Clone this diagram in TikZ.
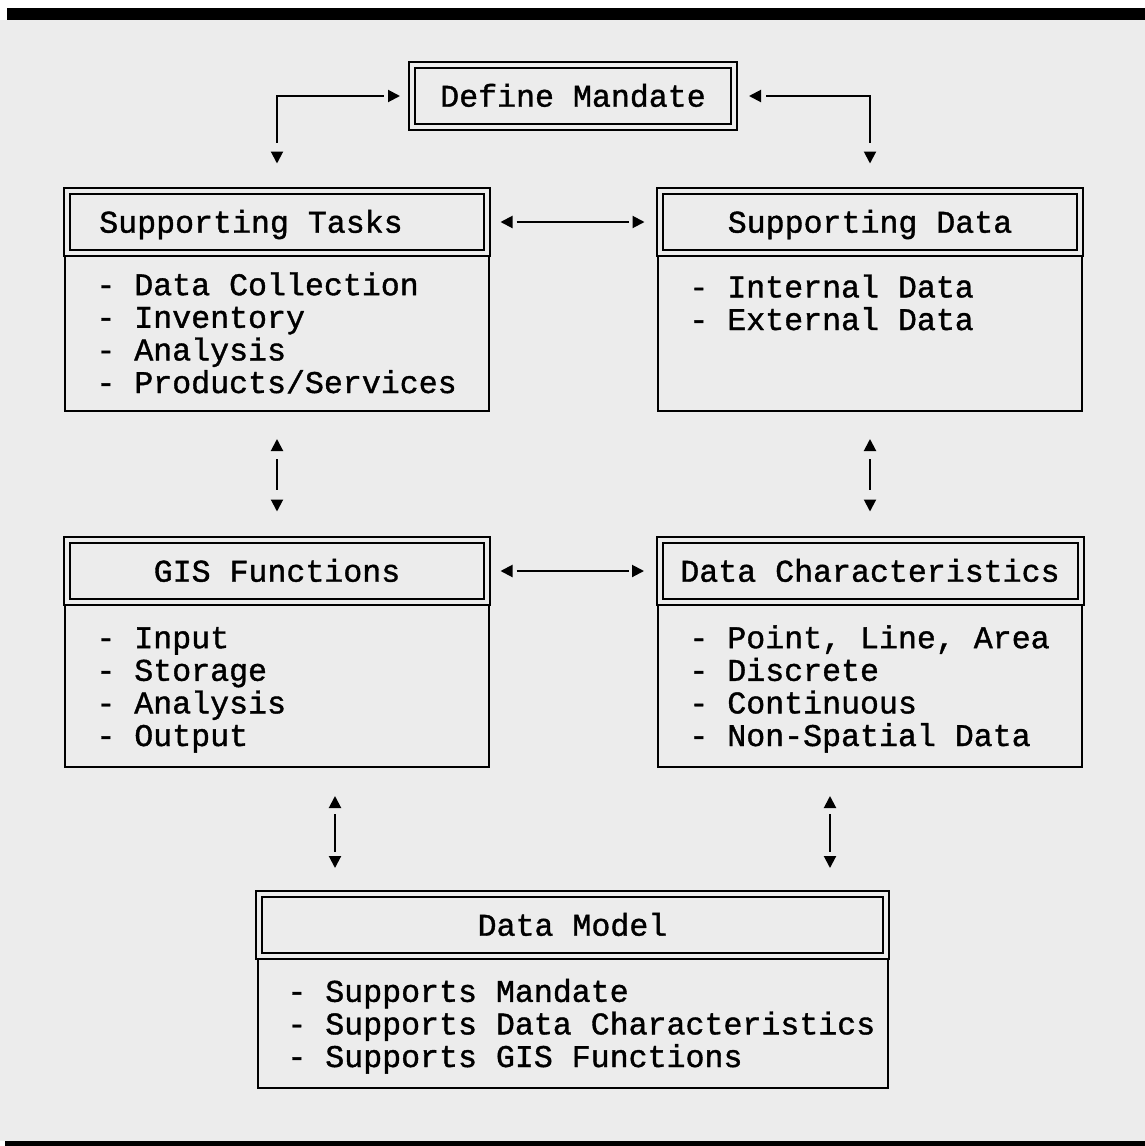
\documentclass[tikz,border=0pt]{standalone}
\usepackage{fontspec}
\newfontfamily\typewriter{Liberation Mono}[FakeBold=1.2]
\usetikzlibrary{arrows.meta}
\definecolor{paper}{gray}{0.925}

\begin{document}
\begin{tikzpicture}[x=0.5pt,y=-0.5pt,
    every node/.style={font=\typewriter\fontsize{15.8}{16.3}\selectfont},
    headbox/.style={draw,line width=1pt,double=paper,double distance=2pt,fill=paper,
      minimum height=31pt,inner sep=0pt,text height=1.07em,text depth=0pt},
    listbox/.style={draw,line width=1pt,fill=paper,inner sep=0pt,minimum width=212pt},
    listtext/.style={anchor=base west,inner sep=0pt,align=left},
    link/.style={tips,line width=1pt,
      {Triangle[length=6pt,width=6pt]}-{Triangle[length=6pt,width=6pt]}},
    stem/.style={line width=1pt}]
    \useasboundingbox (0,0) rectangle (1145,1146);
    \fill[paper] (0,20) rectangle (1145,1141);
    \fill (7,8) rectangle (1145,20);
    \fill (5,1141) rectangle (1145,1146);
    % lists
    \node[listbox,minimum height=78.5pt] (tasksbox) at (277,332.5) {};
    \node[listbox,minimum height=78.5pt] (databox) at (870,332.5) {};
    \node[listbox,minimum height=82pt] (gisbox) at (277,685) {};
    \node[listbox,minimum height=82pt] (charbox) at (870,685) {};
    \node[listbox,minimum height=65.5pt,minimum width=315pt] (modelbox) at (573,1022.5) {};
    \node[listtext] (taskslist) at ([shift={(32,140)}]tasksbox.north west) {- Data Collection\\- Inventory\\- Analysis\\- Products/Services};
    \node[listtext] (datalist) at ([shift={(32,77)}]databox.north west) {- Internal Data\\- External Data};
    \node[listtext] (gislist) at ([shift={(32,144)}]gisbox.north west) {- Input\\- Storage\\- Analysis\\- Output};
    \node[listtext] (charlist) at ([shift={(32,144)}]charbox.north west) {- Point, Line, Area\\- Discrete\\- Continuous\\- Non-Spatial Data};
    \node[listtext] (modellist) at ([shift={(30,111)}]modelbox.north west) {- Supports Mandate\\- Supports Data Characteristics\\- Supports GIS Functions};
    % titles
    \node[headbox,minimum width=161pt] (mandate) at (573,96) {Define Mandate};
    \node[headbox,minimum width=210pt] (tasks) at (277,222) {Supporting Tasks\hspace*{26pt}};
    \node[headbox,minimum width=210pt] (data) at (870,222) {Supporting Data};
    \node[headbox,minimum width=210pt] (gis) at (277,571) {GIS Functions};
    \node[headbox,minimum width=210.5pt] (char) at (870,571) {Data Characteristics};
    \node[headbox,minimum width=313.5pt] (model) at (572.5,925) {Data Model};
    % connectors: tips, then the line between them
    \path[link,shorten <=13.25pt,shorten >=5.5pt] (tasks.north) |- (mandate.west);
    \draw[stem,shorten <=23.75pt,shorten >=13.5pt] (tasks.north) |- (mandate.west);
    \path[link,shorten <=7pt,shorten >=13.25pt] (mandate.east) -| (data.north);
    \draw[stem,shorten <=15.5pt,shorten >=23.75pt] (mandate.east) -| (data.north);
    \path[link,shorten <=6.25pt,shorten >=7.25pt] (tasks.east) -- (data.west);
    \draw[stem,shorten <=14.25pt,shorten >=15pt] (tasks.east) -- (data.west);
    \path[link,shorten <=6.25pt,shorten >=7.25pt] (gis.east) -- (char.west);
    \draw[stem,shorten <=14.25pt,shorten >=15pt] (gis.east) -- (char.west);
    \path[link,shorten <=13.5pt,shorten >=13.75pt] (tasksbox.south) -- (gis.north);
    \draw[stem,shorten <=23.5pt,shorten >=24.75pt] (tasksbox.south) -- (gis.north);
    \path[link,shorten <=13.5pt,shorten >=13.75pt] (databox.south) -- (char.north);
    \draw[stem,shorten <=23.5pt,shorten >=24.75pt] (databox.south) -- (char.north);
    \path[link,shorten <=14pt,shorten >=12.5pt] ([xshift=29pt]gisbox.south) -- ([xshift=29pt]gisbox.south |- model.north);
    \draw[stem,shorten <=23pt,shorten >=20.5pt] ([xshift=29pt]gisbox.south) -- ([xshift=29pt]gisbox.south |- model.north);
    \path[link,shorten <=14pt,shorten >=12.5pt] ([xshift=-20pt]charbox.south) -- ([xshift=-20pt]charbox.south |- model.north);
    \draw[stem,shorten <=23pt,shorten >=20.5pt] ([xshift=-20pt]charbox.south) -- ([xshift=-20pt]charbox.south |- model.north);
\end{tikzpicture}
\end{document}
